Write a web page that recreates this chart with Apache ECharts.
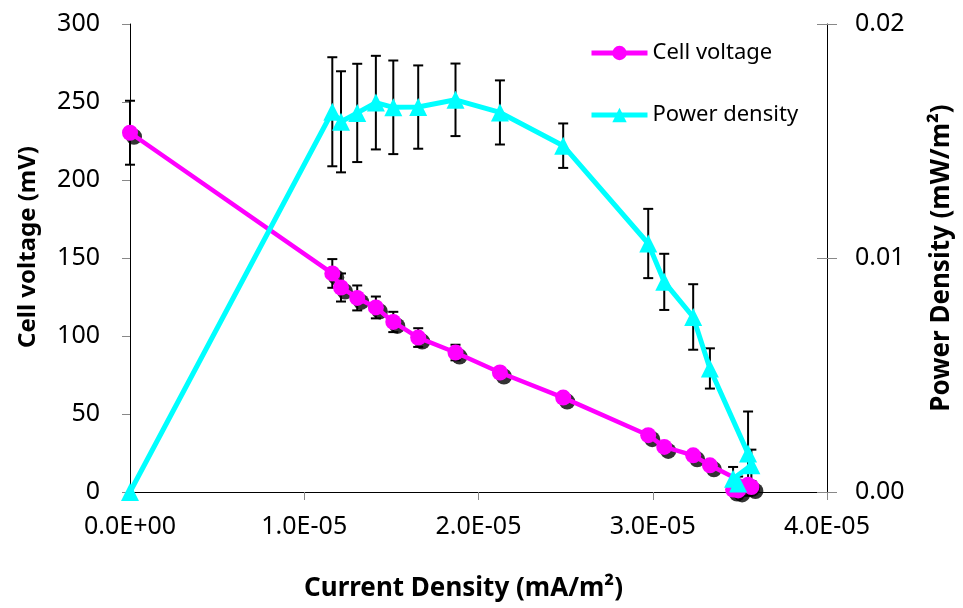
<!DOCTYPE html>
<html>
<head>
<meta charset="utf-8">
<script src="https://cdn.jsdelivr.net/npm/echarts@6/dist/echarts.min.js"></script>
<style>
  html, body { margin: 0; padding: 0; background: #fff; }
  #chart { width: 963px; height: 608px; }
</style>
</head>
<body>
<div id="chart"></div>
<script>
// current density (mA/m2), in measurement order
const current = [0, 1.161e-5, 1.211e-5, 1.304e-5, 1.411e-5, 1.511e-5, 1.654e-5, 1.868e-5, 2.123e-5, 2.486e-5,
  2.974e-5, 3.066e-5, 3.232e-5, 3.328e-5, 3.547e-5, 3.566e-5, 3.461e-5, 3.490e-5]
// cell voltage (mV) and its error
const voltage = [230.3, 140.1, 131.1, 124.4, 118.3, 109, 99, 89.4, 76.6, 60.5,
  36.4, 28.9, 23.5, 17.1, 4.6, 3.2, 1.6, 1.0]
const voltageErr = [20.5, 9.2, 9, 8, 7, 6.5, 6, 5, 3, 3,
  2, 2, 2, 2, 1.5, 1.5, 1.5, 1.5]
// power density (mW/m2) and its error
const power = [0, 0.01625, 0.01582, 0.01620, 0.01664, 0.01644, 0.01645, 0.01676, 0.01622, 0.01480,
  0.01062, 0.00898, 0.00748, 0.00528, 0.00164, 0.00114, 0.00057, 0.00036]
const powerErr = [0, 0.00233, 0.00216, 0.0021, 0.002, 0.002, 0.00178, 0.00155, 0.00137, 0.00095,
  0.00148, 0.0012, 0.0014, 0.00086, 0.0018, 0.00067, 0.0005, 0.0003]

const xTicks = ['0.0E+00', '1.0E-05', '2.0E-05', '3.0E-05', '4.0E-05']
const rightTicks = ['0.00', '0.01', '0.02']

const FONT = 'Noto Sans'
const chart = echarts.init(document.getElementById('chart'))

function pairs(ys) {
  return current.map((x, i) => [x, ys[i]])
}

function errorSeries(ys, errs, axisIdx) {
  return {
    type: 'custom',
    yAxisIndex: axisIdx,
    z: 2,
    silent: true,
    data: current.map((x, i) => [x, ys[i] - errs[i], ys[i] + errs[i]]),
    encode: { x: 0, y: [1, 2] },
    renderItem: function (params, api) {
      if (api.value(2) - api.value(1) <= 0) return null
      const lo = api.coord([api.value(0), api.value(1)])
      const hi = api.coord([api.value(0), api.value(2)])
      const w = 5
      const st = { stroke: '#000', lineWidth: 2 }
      return {
        type: 'group',
        children: [
          { type: 'line', shape: { x1: lo[0], y1: lo[1], x2: hi[0], y2: hi[1] }, style: st },
          { type: 'line', shape: { x1: lo[0] - w, y1: lo[1], x2: lo[0] + w, y2: lo[1] }, style: st },
          { type: 'line', shape: { x1: hi[0] - w, y1: hi[1], x2: hi[0] + w, y2: hi[1] }, style: st }
        ]
      }
    }
  }
}

const axisTitle = { fontFamily: FONT, fontSize: 26, fontWeight: 'bold', color: '#000' }
const tickLabel = { fontFamily: FONT, fontSize: 25, color: '#000' }

chart.setOption({
  animation: false,
  backgroundColor: '#fff',
  grid: { left: 130, right: 136, top: 24, bottom: 116 },
  legend: {
    data: ['Cell voltage', 'Power density'],
    orient: 'vertical',
    left: 584,
    top: 37,
    itemWidth: 56,
    itemHeight: 18,
    itemGap: 40,
    lineStyle: { width: 5 },
    textStyle: { fontFamily: FONT, fontSize: 22, color: '#000' }
  },
  xAxis: {
    type: 'value',
    min: 0,
    max: 4e-5,
    interval: 1e-5,
    name: 'Current Density (mA/m²)',
    nameLocation: 'middle',
    nameGap: 84,
    nameTextStyle: { ...axisTitle, padding: [0, 30, 0, 0] },
    axisLine: { lineStyle: { color: '#000', width: 1 } },
    axisTick: { lineStyle: { color: '#888' }, length: 8 },
    axisLabel: { margin: 22, formatter: v => xTicks[Math.round(v / 1e-5)], ...tickLabel },
    splitLine: { show: false }
  },
  yAxis: [{
    type: 'value',
    min: 0,
    max: 300,
    interval: 50,
    name: 'Cell voltage (mV)',
    nameLocation: 'middle',
    nameGap: 90,
    nameTextStyle: { ...axisTitle, fontSize: 24, padding: [0, 0, 0, 22] },
    axisLine: { show: true, lineStyle: { color: '#000', width: 1 } },
    axisTick: { show: true, lineStyle: { color: '#888' }, length: 8 },
    axisLabel: { margin: 30, ...tickLabel },
    splitLine: { show: false }
  }, {
    type: 'value',
    position: 'right',
    min: 0,
    max: 0.02,
    interval: 0.01,
    name: 'Power Density (mW/m²)',
    nameLocation: 'middle',
    nameGap: 102,
    nameRotate: 90,
    nameTextStyle: axisTitle,
    axisLine: { show: true, lineStyle: { color: '#000', width: 1 } },
    axisTick: { show: true, lineStyle: { color: '#888' }, length: 10 },
    axisLabel: { margin: 28, formatter: v => rightTicks[Math.round(v / 0.01)], ...tickLabel },
    splitLine: { show: false }
  }, {
    // inner half of the crossing ticks on the right axis
    type: 'value',
    position: 'right',
    min: 0,
    max: 0.02,
    interval: 0.01,
    axisLine: { show: false },
    axisTick: { show: true, inside: true, lineStyle: { color: '#888' }, length: 10 },
    axisLabel: { show: false },
    splitLine: { show: false }
  }],
  series: [
    {
      // black drop shadow under the voltage markers
      type: 'scatter',
      name: 'shadow',
      z: 1,
      silent: true,
      symbol: 'circle',
      symbolSize: 16,
      symbolOffset: [4, 4],
      itemStyle: { color: '#000' },
      data: pairs(voltage)
    },
    errorSeries(voltage, voltageErr, 0),
    errorSeries(power, powerErr, 1),
    {
      name: 'Cell voltage',
      type: 'line',
      z: 3,
      symbol: 'circle',
      symbolSize: 16,
      lineStyle: { color: '#FF00FF', width: 4.5 },
      itemStyle: { color: '#FF00FF' },
      data: pairs(voltage)
    },
    {
      name: 'Power density',
      type: 'line',
      yAxisIndex: 1,
      z: 4,
      symbol: 'triangle',
      symbolSize: 18,
      lineStyle: { color: '#00FFFF', width: 5 },
      itemStyle: { color: '#00FFFF' },
      data: pairs(power)
    }
  ]
})
</script>
</body>
</html>
